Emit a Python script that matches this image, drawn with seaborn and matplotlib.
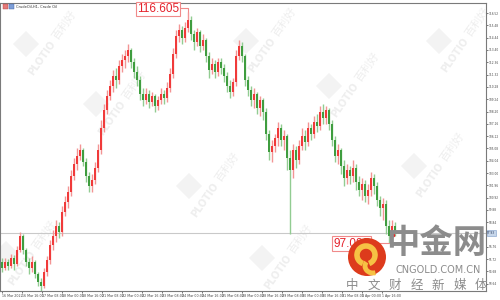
import numpy as np
import pandas as pd
import seaborn as sns
import matplotlib
matplotlib.use("Agg")
import matplotlib.pyplot as plt
from matplotlib.patches import Circle, Arc, Polygon
from matplotlib.transforms import IdentityTransform

# ---------------- data ----------------
title = "CrudeOil,H1, Crude Oil"
first_open = 95.48
closes = [94.97, 95.48, 95.14, 95.82, 95.31, 96.50, 97.68, 96.50, 95.48, 94.97,
          95.48, 94.47, 93.79, 93.45, 94.64, 95.65, 96.92, 97.68, 98.52, 98.02,
          99.71, 100.55, 101.40, 102.75, 103.76, 104.44, 104.95, 103.93, 102.75, 101.90,
          102.41, 103.42, 104.95, 106.80, 108.33, 109.51, 110.35, 111.20, 110.86, 112.04,
          112.55, 112.89, 113.40, 112.38, 111.54, 110.86, 109.68, 109.17, 109.68, 109.00,
          109.51, 108.66, 109.17, 109.68, 109.34, 110.18, 111.37, 113.06, 114.58, 115.09,
          114.41, 115.25, 115.93, 114.75, 114.07, 114.92, 113.73, 114.24, 112.89, 111.71,
          112.21, 111.54, 112.38, 111.87, 111.20, 110.35, 109.85, 110.69, 112.89, 113.73,
          112.89, 110.86, 110.02, 109.17, 109.68, 108.49, 109.17, 108.16, 106.30, 104.78,
          105.28, 105.96, 106.80, 105.79, 106.13, 104.27, 103.26, 104.95, 104.10, 105.28,
          106.13, 105.62, 106.80, 106.30, 107.31, 106.97, 108.16, 107.65, 108.33, 107.14,
          105.79, 104.44, 104.95, 103.59, 102.58, 103.26, 102.75, 103.42, 102.24, 101.57,
          102.07, 101.06, 101.57, 102.58, 101.90, 100.72, 100.04, 100.38, 98.52, 97.68,
          98.52, 97.93]
highs = [95.82, 95.82, 95.73, 96.16, 96.07, 96.83, 98.02, 97.85, 96.66, 95.82,
         95.99, 95.65, 94.64, 94.13, 94.97, 95.99, 97.34, 98.19, 99.03, 98.86,
         100.21, 101.06, 101.90, 103.26, 104.27, 105.11, 105.45, 105.11, 104.27, 103.09,
         102.92, 103.93, 105.45, 107.48, 108.83, 110.02, 110.86, 111.71, 111.87, 112.55,
         113.06, 113.40, 113.90, 113.56, 112.72, 112.04, 111.20, 110.18, 110.18, 110.02,
         109.85, 109.68, 109.51, 110.18, 110.02, 110.69, 111.87, 113.56, 115.09, 115.59,
         115.42, 115.76, 116.605, 116.27, 115.09, 115.25, 115.09, 114.75, 114.41, 113.23,
         112.72, 112.55, 112.72, 112.72, 112.21, 111.54, 110.86, 111.03, 113.40, 114.24,
         114.07, 113.06, 111.20, 110.35, 110.18, 109.85, 109.51, 109.34, 108.49, 106.64,
         105.79, 106.30, 107.31, 107.14, 106.64, 106.30, 104.95, 105.45, 105.28, 105.79,
         106.80, 106.64, 107.31, 107.14, 107.82, 107.99, 108.66, 108.83, 108.66, 108.49,
         107.48, 106.13, 105.45, 105.11, 104.10, 103.76, 103.59, 104.10, 103.76, 102.75,
         102.58, 102.41, 102.07, 103.09, 102.92, 102.24, 101.06, 100.89, 100.72, 99.03,
         99.03, 98.86]
lows = [94.64, 94.81, 94.81, 94.97, 94.81, 95.14, 96.33, 96.16, 95.14, 94.47,
        94.64, 94.13, 93.45, 93.03, 93.28, 94.30, 95.31, 96.50, 97.17, 97.51,
        97.68, 99.37, 100.04, 101.06, 102.41, 103.26, 104.10, 103.59, 102.24, 101.40,
        101.40, 102.07, 103.09, 104.61, 106.47, 107.99, 109.17, 109.85, 110.18, 110.52,
        111.54, 111.87, 112.38, 111.87, 111.03, 110.35, 109.17, 108.66, 108.83, 108.49,
        108.66, 108.16, 108.33, 108.83, 108.83, 109.00, 109.85, 111.03, 112.72, 114.07,
        113.90, 114.07, 114.92, 114.24, 113.40, 113.73, 113.23, 113.40, 112.38, 111.03,
        111.37, 111.03, 111.20, 111.37, 110.69, 109.85, 109.34, 109.51, 110.35, 112.55,
        112.38, 110.35, 109.51, 108.66, 108.49, 107.99, 107.82, 107.48, 105.79, 104.10,
        103.93, 104.78, 105.28, 105.28, 104.95, 103.26, 97.85, 102.58, 103.42, 103.76,
        104.95, 104.95, 105.28, 105.79, 105.96, 106.47, 106.64, 107.14, 107.14, 106.64,
        105.28, 103.93, 103.76, 102.92, 101.90, 102.07, 102.07, 102.24, 101.57, 101.06,
        100.72, 100.55, 100.38, 101.06, 101.23, 100.21, 99.37, 99.03, 97.85, 97.08,
        97.51, 97.68]
x_labels = ["16 Mar 2022", "16 Mar 16:00", "17 Mar 08:00", "18 Mar 00:00", "18 Mar 16:00",
            "21 Mar 08:00", "22 Mar 00:00", "22 Mar 16:00", "23 Mar 08:00", "24 Mar 00:00",
            "24 Mar 16:00", "25 Mar 08:00", "28 Mar 00:00", "28 Mar 16:00", "29 Mar 08:00",
            "30 Mar 00:00", "30 Mar 16:00", "31 Mar 08:00", "1 Apr 00:00", "1 Apr 16:00"]
y_ticks = [116.52, 115.48, 114.44, 113.40, 112.36, 111.32, 110.28, 109.24, 108.20, 107.16,
           106.12, 105.08, 104.04, 103.00, 101.96, 100.92, 99.88, 98.84, 96.76,
           95.72, 94.68, 93.64]
high_text = "116.605"
low_text = "97.080"
low_value = 97.08
current_price = 97.93

# ---------------- style ----------------
sns.set_theme(style="white")
plt.rcParams['font.family'] = ['DejaVu Sans', 'Noto Sans CJK SC']

W, H = 500, 300
AX_W = 486
fig = plt.figure(figsize=(W / 100, H / 100), dpi=100)
fig.patch.set_facecolor("white")
ax = fig.add_axes([0.0, 9 / H, AX_W / W, 288 / H])
ax.set_facecolor("white")

n = len(closes)
df = pd.DataFrame({"idx": np.arange(n), "close": closes, "high": highs, "low": lows})
df["open"] = [first_open] + closes[:-1]
df["up"] = df["close"] >= df["open"]

UP_BODY, UP_WICK = "#f03a3a", "#f39494"
DN_BODY, DN_WICK = "#3f9d3f", "#92cc92"

ax.set_xlim(-2 / 3, AX_W / 3 - 2 / 3)
ax.set_ylim(93.03, 117.37)

# current price line
ax.axhline(current_price, color="#c9c9c9", lw=0.8, zorder=1)

# wicks
ax.vlines(df["idx"], df["low"], df["high"],
          colors=np.where(df["up"], UP_WICK, DN_WICK), lw=1.0, zorder=2)
# bodies
bottoms = df[["open", "close"]].min(axis=1)
heights = (df["close"] - df["open"]).abs().clip(lower=0.06)
ax.bar(df["idx"], heights, bottom=bottoms, width=0.75,
       color=np.where(df["up"], UP_BODY, DN_BODY), linewidth=0, zorder=3)

# axes styling
for s in ax.spines.values():
    s.set_color("#7a7a7a")
    s.set_linewidth(0.8)
ax.yaxis.tick_right()
ax.set_yticks(y_ticks)
ax.set_yticklabels([f"{v:.2f}" for v in y_ticks])
ax.tick_params(axis="y", which="both", right=True, length=1.5, width=0.5, pad=0.5,
               labelsize=2.1, colors="#444444")
xt = [20 * k / 3 for k in range(len(x_labels))]
ax.set_xticks(xt)
ax.set_xticklabels(x_labels)
for lab in ax.get_xticklabels():
    lab.set_ha("left")
ax.tick_params(axis="x", which="both", bottom=True, length=1.5, width=0.5, pad=0.8,
               labelsize=2.3, colors="#444444")
ax.grid(False)

# current price highlight on axis
ax.annotate(f"{current_price:.2f}", xy=(1.0, current_price),
            xycoords=("axes fraction", "data"), xytext=(0.9, 0),
            textcoords="offset points", ha="left", va="center", fontsize=2.1,
            color="#223355",
            bbox=dict(boxstyle="square,pad=0.2", fc="#c6d6ea", ec="#7d9cc8", lw=0.4),
            annotation_clip=False, zorder=6)

# high / low labels
narrow = ["Liberation Sans Narrow", "Liberation Sans", "DejaVu Sans"]
peak_i = int(np.argmax(highs))
low_i = int(np.argmin(df["low"].values[60:])) + 60
ax.text(52.0, 116.86, high_text, ha="center", va="center", fontsize=8.5,
        color="#e5222c", family=narrow, zorder=7,
        bbox=dict(boxstyle="square,pad=0.12", fc="white", ec="#f08a8a", lw=0.8))
ax.plot([58.4, peak_i, peak_i], [116.95, 116.95, highs[peak_i]], color="#f08a8a",
        lw=0.8, zorder=6)
ax.plot([118.0, low_i], [low_value, low_value], color="#f08a8a", lw=0.8, zorder=6)
ax.text(110.4, 97.04, low_text, ha="left", va="center", fontsize=8.5,
        color="#e5222c", family=narrow, zorder=7,
        bbox=dict(boxstyle="square,pad=0.12", fc="white", ec="#f08a8a", lw=0.8))
ax.plot([low_i + 1.3], [97.76], marker="o", ms=1.6, color="#e5222c", zorder=7)

# ---------------- overlays in pixel coordinates ----------------
ID = IdentityTransform()


def px(x, y):
    return x, H - y


# title icons and text
fig.patches.append(plt.Rectangle(px(3, 9), 5, 5, transform=ID, fc="#e57a7a", ec="#b04040",
                                 lw=0.3, zorder=8))
fig.patches.append(plt.Rectangle(px(9, 9), 5, 5, transform=ID, fc="#7d9ed8", ec="#4060a0",
                                 lw=0.3, zorder=8))
fig.text(16 / W, 1 - 6.5 / H, title, fontsize=2.6, color="#333333", va="center",
         ha="left", zorder=8)

# watermarks
wm_centers = [(42, 58), (112, 118), (205, 200), (262, 55), (345, 100), (455, 55),
              (430, 180), (22, 268), (278, 272)]
ang = 55
u = np.array([np.cos(np.radians(ang)), -np.sin(np.radians(ang))])
for cx, cy in wm_centers:
    dx, dy = cx - 16, cy - 14
    dia = Polygon([px(dx, dy - 13), px(dx + 13, dy), px(dx, dy + 13), px(dx - 13, dy)],
                  closed=True, transform=ID, fc="#f3f3f3", ec="none", zorder=0.5)
    fig.patches.append(dia)
    x0, y0 = px(cx, cy)
    fig.text(x0 / W, y0 / H, "PLOTIO", rotation=ang, fontsize=7, fontweight="bold",
             color="#eeeeee", ha="center", va="center", zorder=0.6,
             rotation_mode="anchor")
    cx2, cy2 = np.array([cx, cy]) + 40 * u
    x1, y1 = px(cx2, cy2)
    fig.text(x1 / W, y1 / H, "百利好", rotation=ang, fontsize=8,
             family=["Noto Sans CJK SC"], color="#eeeeee", ha="center", va="center",
             zorder=0.6, rotation_mode="anchor")
ax.set_zorder(1)
ax.patch.set_alpha(0)

# CNGOLD logo
lc = px(367, 257)
fig.patches.append(Circle(lc, 19, transform=ID, fc="#dd3b1c", ec="none", zorder=20))
fig.patches.append(Arc((lc[0] - 1, lc[1] + 2), 18, 18, theta1=-70, theta2=250,
                       transform=ID, color="#f6c244", lw=4, zorder=21))
fig.patches.append(Arc((lc[0] + 6, lc[1] - 9), 16, 14, theta1=150, theta2=290,
                       transform=ID, color="#f6c244", lw=3.5, zorder=21))
x, y = px(436, 244)
fig.text(x / W, y / H, "中金网", fontsize=24, fontweight="bold", color="#8c8c8c",
         family=["Noto Sans CJK SC"], ha="center", va="center", zorder=20)
x, y = px(438, 270)
fig.text(x / W, y / H, "CNGOLD.COM.CN", fontsize=7, color="#8c8c8c",
         ha="center", va="center", zorder=20)
for k, ch in enumerate("中文财经新媒体"):
    x, y = px(352 + 21.5 * k, 285)
    fig.text(x / W, y / H, ch, fontsize=9, color="#8c8c8c", family=["Noto Sans CJK SC"],
             ha="center", va="center", zorder=20)

fig.savefig("out.png", dpi=100, facecolor="white")
